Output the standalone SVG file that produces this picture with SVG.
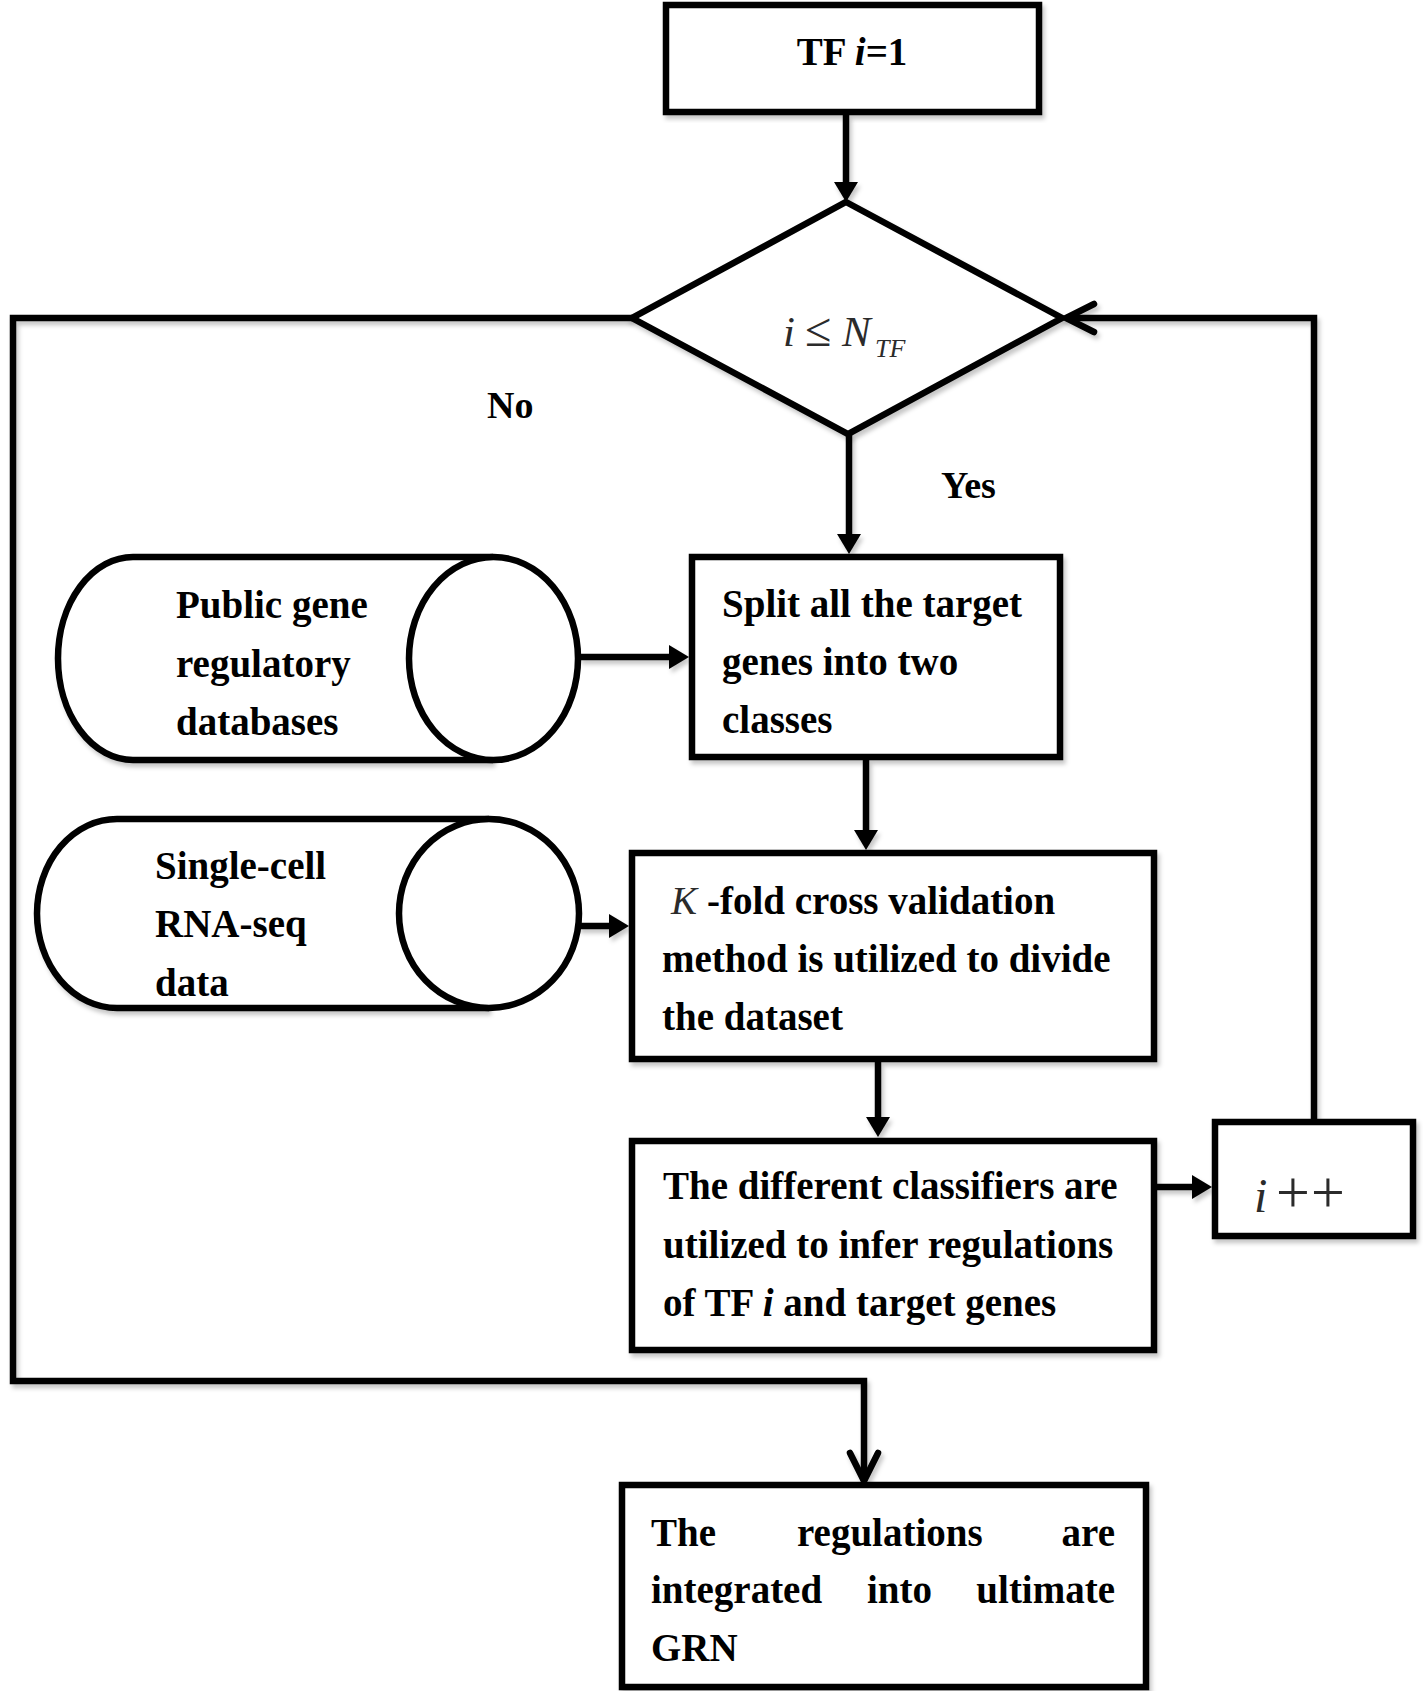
<svg xmlns="http://www.w3.org/2000/svg" width="1423" height="1691" viewBox="0 0 1423 1691">
<defs>
<filter id="sh" x="-5%" y="-5%" width="110%" height="115%">
<feDropShadow dx="2.5" dy="4" stdDeviation="2" flood-color="#000" flood-opacity="0.22"/>
</filter>
<marker id="tri" markerUnits="userSpaceOnUse" markerWidth="24" markerHeight="26" refX="4" refY="12" orient="auto" overflow="visible">
<path d="M0,0 L20,12 L0,24 Z" fill="#000"/>
</marker>
<marker id="chev" markerUnits="userSpaceOnUse" markerWidth="34" markerHeight="34" refX="28" refY="14" orient="auto" overflow="visible">
<path d="M0,0 L28,14 L0,28" fill="none" stroke="#000" stroke-width="6.5" stroke-linecap="round" stroke-linejoin="miter"/>
</marker>
</defs>
<style>
.shape{fill:#fff;stroke:#000;stroke-width:6.5;stroke-linejoin:miter}
.conn{fill:none;stroke:#000;stroke-width:6.5;stroke-linejoin:miter}
.t{font-family:"Liberation Serif","Times New Roman",serif;font-weight:bold;font-size:39px;fill:#000}
.lbl{font-family:"Liberation Serif","Times New Roman",serif;font-weight:bold;font-size:38px;fill:#000}
.m{font-family:"Liberation Serif","Times New Roman",serif;font-weight:normal;fill:#2b2b2b}
</style>
<rect width="1423" height="1691" fill="#fff"/>

<g id="connectors" filter="url(#sh)">
<path class="conn" d="M846,115 L846,186" marker-end="url(#tri)"/>
<path class="conn" d="M849,434 L849,538" marker-end="url(#tri)"/>
<path class="conn" d="M579,657 L673,657" marker-end="url(#tri)"/>
<path class="conn" d="M866,760 L866,834" marker-end="url(#tri)"/>
<path class="conn" d="M578,926 L613,926" marker-end="url(#tri)"/>
<path class="conn" d="M878,1062 L878,1121" marker-end="url(#tri)"/>
<path class="conn" d="M1157,1187 L1196,1187" marker-end="url(#tri)"/>
<path class="conn" d="M1314,1119 L1314,318 L1066,318" marker-end="url(#chev)"/>
<path class="conn" d="M632,318 L13,318 L13,1381 L864,1381 L864,1481" marker-end="url(#chev)"/>
</g>

<g id="start">
<rect class="shape" x="666" y="5" width="373" height="107" filter="url(#sh)"/>
<text class="t" x="852" y="65" text-anchor="middle">TF <tspan font-style="italic">i</tspan>=1</text>
</g>

<g id="decision">
<polygon class="shape" points="846,202 1062,318 848,434 632,318" filter="url(#sh)"/>
<text class="m" y="346" font-size="43"><tspan x="783" font-style="italic">i</tspan><tspan x="805" font-size="48">≤</tspan><tspan x="842" font-style="italic">N</tspan><tspan x="875" y="357" font-size="26" font-style="italic">TF</tspan></text>
</g>

<g id="label-no"><text class="lbl" x="487" y="418">No</text></g>
<g id="label-yes"><text class="lbl" x="941" y="498">Yes</text></g>

<g id="public-db">
<path class="shape" d="M493,557 L133,557 A75,101.5 0 0 0 133,760 L493,760" filter="url(#sh)"/>
<ellipse class="shape" cx="493.5" cy="658.5" rx="84.5" ry="101.5"/>
<text class="t" x="176" y="618">Public gene</text>
<text class="t" x="176" y="677">regulatory</text>
<text class="t" x="176" y="735">databases</text>
</g>

<g id="split">
<rect class="shape" x="692" y="557" width="368" height="200" filter="url(#sh)"/>
<text class="t" x="722" y="617">Split all the target</text>
<text class="t" x="722" y="675">genes into two</text>
<text class="t" x="722" y="733">classes</text>
</g>

<g id="single-cell">
<path class="shape" d="M489,819 L117,819 A80,94.5 0 0 0 117,1008 L489,1008" filter="url(#sh)"/>
<ellipse class="shape" cx="489" cy="913.5" rx="90" ry="94.5"/>
<text class="t" x="155" y="879">Single-cell</text>
<text class="t" x="155" y="937">RNA-seq</text>
<text class="t" x="155" y="996">data</text>
</g>

<g id="kfold">
<rect class="shape" x="632" y="853" width="522" height="206" filter="url(#sh)"/>
<text class="m" x="671" y="914" font-size="39" font-style="italic" fill="#333">K</text>
<text class="t" x="707" y="914">-fold cross validation</text>
<text class="t" x="662" y="972">method is utilized to divide</text>
<text class="t" x="662" y="1030">the dataset</text>
</g>

<g id="classifiers">
<rect class="shape" x="632" y="1141" width="522" height="209" filter="url(#sh)"/>
<text class="t" x="663" y="1199">The different classifiers are</text>
<text class="t" x="663" y="1258">utilized to infer regulations</text>
<text class="t" x="663" y="1316">of TF <tspan font-style="italic">i</tspan> and target genes</text>
</g>

<g id="increment">
<rect class="shape" x="1215" y="1122" width="198" height="114" filter="url(#sh)"/>
<text class="m" y="1212" font-size="48"><tspan x="1254" font-style="italic">i</tspan><tspan x="1276" font-size="60">+</tspan><tspan x="1311" font-size="60">+</tspan></text>
</g>

<g id="integrate">
<rect class="shape" x="622" y="1485" width="524" height="202" filter="url(#sh)"/>
<text class="t" x="651" y="1546">The</text>
<text class="t" x="797" y="1546">regulations</text>
<text class="t" x="1115" y="1546" text-anchor="end">are</text>
<text class="t" x="651" y="1603">integrated</text>
<text class="t" x="867" y="1603">into</text>
<text class="t" x="1115" y="1603" text-anchor="end">ultimate</text>
<text class="t" x="651" y="1661">GRN</text>
</g>
</svg>
